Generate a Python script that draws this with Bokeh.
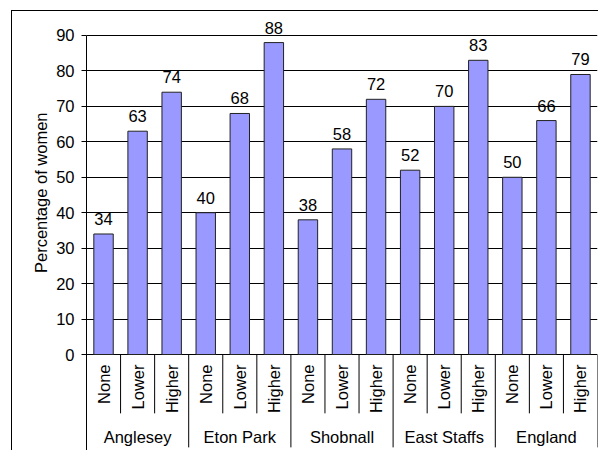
import math
from bokeh.plotting import figure
from bokeh.models import (ColumnDataSource, FactorRange, Range1d, FixedTicker,
                          LabelSet, Title, InlineStyleSheet)
from bokeh.core.properties import value
from bokeh.embed import file_html
from bokeh.resources import INLINE

# ---- data ----
groups = ["Anglesey", "Eton Park", "Shobnall", "East Staffs", "England"]
levels = ["None", "Lower", "Higher"]
anglesey = [34, 63, 74]
eton_park = [40, 68, 88]
shobnall = [38, 58, 72]
east_staffs = [52, 70, 83]
england = [50, 66, 79]
y_ticks = [0, 10, 20, 30, 40, 50, 60, 70, 80, 90]
y_label = "Percentage of women"

series = [anglesey, eton_park, shobnall, east_staffs, england]
factors = [(g, l) for g in groups for l in levels]
vals = [v for s in series for v in s]

FONT = "Liberation Sans"
FS = "16.5px"

# layout constants (value-axis units)
Y_MIN = -27.08
Y_MAX = 94.23
SEP_SHORT = -16.6
SEP_LONG = -26.2

# chart-area border: a left rule and a top rule only
border_css = InlineStyleSheet(css="""
:host::before {
  content: "";
  position: absolute;
  left: 11px; top: 10px; width: 1px; height: 440px;
  background: #000;
  pointer-events: none;
  z-index: 100;
}
:host::after {
  content: "";
  position: absolute;
  left: 11px; top: 10px; width: 587px; height: 1px;
  background: #000;
  pointer-events: none;
  z-index: 100;
}
""")

x_range = FactorRange(*factors, factor_padding=0, group_padding=0, range_padding=0)
p = figure(width=598, height=450, x_range=x_range, y_range=Range1d(Y_MIN, Y_MAX),
           output_backend="svg", toolbar_location=None, x_axis_location=None,
           min_border_left=86, min_border_right=1, min_border_top=20,
           min_border_bottom=0, stylesheets=[border_css])
p.outline_line_color = None
p.xgrid.visible = False
p.background_fill_color = "white"
p.border_fill_color = "white"

ticker = FixedTicker(ticks=y_ticks)
p.yaxis.ticker = ticker
p.yaxis.bounds = (Y_MIN, y_ticks[-1])
p.ygrid.ticker = ticker
p.ygrid.grid_line_color = "#000000"
p.ygrid.grid_line_width = 1
p.yaxis.axis_line_color = "#000000"
p.yaxis.major_tick_line_color = "#000000"
p.yaxis.major_tick_out = 5
p.yaxis.major_tick_in = 0
p.yaxis.minor_tick_line_color = None
p.yaxis.major_label_standoff = 7
p.yaxis.major_label_text_font = FONT
p.yaxis.major_label_text_font_size = FS
p.yaxis.major_label_text_color = "#000000"

src = ColumnDataSource(dict(x=factors, top=vals, lab=[str(v) for v in vals]))
p.vbar(x="x", top="top", width=0.57, source=src, fill_color="#9999FF",
       line_color="#222222", line_width=1)

p.add_layout(LabelSet(x="x", y="top", text="lab", source=src, y_offset=9,
                      text_align="center", text_baseline="alphabetic",
                      text_font=value(FONT), text_font_size=FS,
                      text_color="#000000"))

# category separators
n = len(levels)
xs_short = [i for i in range(1, len(factors)) if i % n != 0]
xs_long = [i for i in range(n, len(factors) + 1, n)]
p.segment(x0=xs_short, y0=[0] * len(xs_short), x1=xs_short, y1=[SEP_SHORT] * len(xs_short),
          line_color="#000000", line_width=1)
p.segment(x0=xs_long, y0=[0] * len(xs_long), x1=xs_long, y1=[SEP_LONG] * len(xs_long),
          line_color="#000000", line_width=1)

# level labels (rotated)
p.text(x=factors, y=[0] * len(factors), text=[f[1] for f in factors], angle=math.pi / 2,
       y_offset=10, text_align="right", text_baseline="middle",
       text_font=value(FONT), text_font_size=value(FS), text_color="#000000")
# group labels
p.text(x=groups, y=[0] * len(groups), text=groups, y_offset=82,
       text_align="center", text_baseline="middle",
       text_font=value(FONT), text_font_size=value(FS), text_color="#000000")

# value-axis title
p.add_layout(Title(text=y_label, align="right", offset=92, standoff=8,
                   text_font=FONT, text_font_size=FS, text_font_style="normal",
                   text_color="#000000"), "left")

open("out.html", "w").write(file_html(p, INLINE))
